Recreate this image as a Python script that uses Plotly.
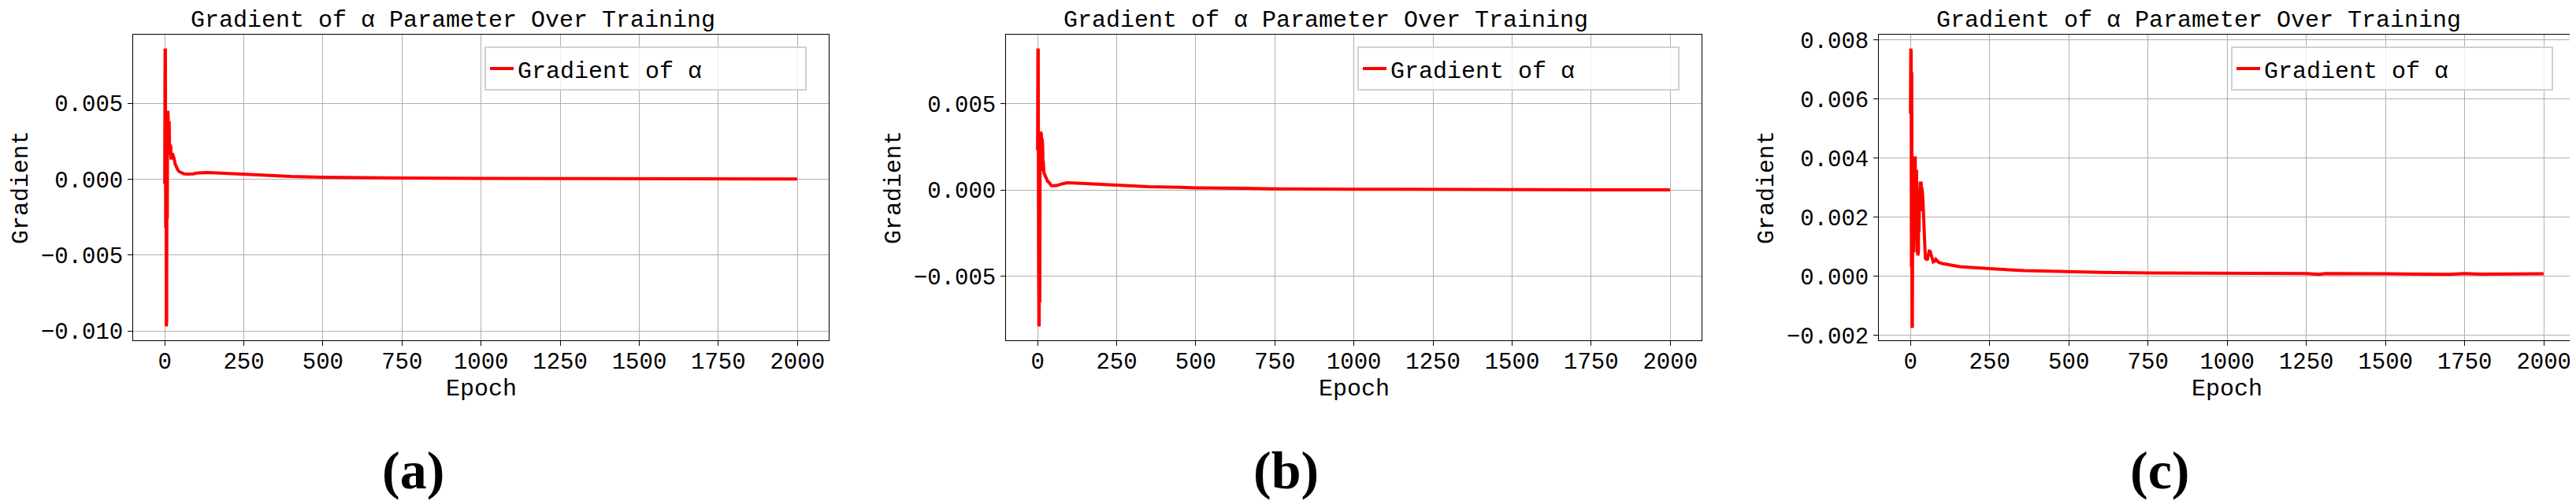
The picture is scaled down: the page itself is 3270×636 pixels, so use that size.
import plotly.graph_objects as go

# ---------------- DATA ----------------
epochs_a = [0, 1, 2, 3, 4, 5, 6, 7, 8, 9, 10, 11, 12, 13, 14, 15, 16, 17, 18, 19,
            20, 22, 24, 26, 28, 30, 33, 36, 40, 45, 50, 55, 60, 70, 80, 90, 100,
            115, 130, 150, 175, 200, 250, 300, 350, 400, 500, 600, 750, 1000,
            1250, 1500, 1750, 1999]
grad_a = [-0.0003, 0.0086, 0.0085, -0.0032, 0.0042, -0.0097, -0.0095, 0.0041,
          -0.0026, 0.0044, 0.0045, 0.0030, 0.0044, 0.0026, 0.0038, 0.0022, 0.0030,
          0.0023, 0.0016, 0.0022, 0.0013, 0.0015, 0.0017, 0.0016, 0.0015, 0.0013,
          0.0010, 0.0008, 0.00065, 0.0005, 0.00043, 0.00038, 0.00035, 0.00033,
          0.00033, 0.00035, 0.0004, 0.00043, 0.00043, 0.00042, 0.00039, 0.00036,
          0.00030, 0.00024, 0.0002, 0.00017, 0.00013, 0.0001, 0.00007, 0.00005,
          0.00003, 0.00002, 0.00002, 0.00001]

epochs_b = [0, 1, 2, 3, 4, 5, 6, 7, 8, 9, 10, 11, 12, 13, 14, 15, 16, 17, 18, 20,
            22, 25, 28, 32, 36, 40, 43, 50, 60, 75, 93, 125, 150, 200, 250, 300,
            350, 450, 500, 650, 750, 1000, 1250, 1400, 1600, 1999]
grad_b = [0.0023, 0.0082, 0.0081, -0.0038, -0.0079, -0.0078, 0.0030, -0.0065,
          0.0033, 0.0020, 0.0034, 0.0018, 0.0033, 0.0011, 0.0030, 0.0019, 0.0026,
          0.0012, 0.0017, 0.0010, 0.0009, 0.0008, 0.0006, 0.0005, 0.00045,
          0.00033, 0.00026, 0.00025, 0.00026, 0.00035, 0.00042, 0.0004, 0.00038,
          0.00033, 0.00027, 0.00022, 0.00019, 0.00016, 0.00013, 0.0001, 0.00007,
          0.00005, 0.00004, 0.00003, 0.00002, 0.00001]

epochs_c = [0, 1, 2, 3, 4, 5, 6, 7, 8, 9, 10, 11, 12, 13, 14, 15, 16, 17, 18, 19,
            20, 21, 22, 23, 24, 25, 26, 27, 28, 29, 30, 31, 32, 33, 34, 35, 36,
            38, 40, 42, 43, 45, 47, 50, 53, 56, 59, 62, 65, 68, 72, 76, 80, 84,
            90, 100, 115, 130, 155, 180, 205, 240, 280, 320, 360, 420, 500, 600,
            750, 900, 1000, 1250, 1290, 1310, 1500, 1700, 1750, 1800, 1999]
grad_c = [0.0055, 0.0077, 0.0076, 0.0003, 0.0069, -0.0017, -0.0017, 0.0026,
          -0.0004, 0.0022, 0.0008, 0.0025, 0.0020, 0.0039, 0.0040, 0.0040, 0.0021,
          0.0037, 0.0030, 0.0036, 0.0009, 0.0008, 0.0025, 0.0007, 0.0021, 0.0008,
          0.0023, 0.0015, 0.0026, 0.0028, 0.0031, 0.0032, 0.0027, 0.0032, 0.0031,
          0.0022, 0.0030, 0.0028, 0.0024, 0.0018, 0.0011, 0.0008, 0.0006, 0.00058,
          0.00054, 0.0007, 0.00085, 0.00084, 0.0007, 0.00055, 0.00048, 0.0005,
          0.00057, 0.00052, 0.00046, 0.00043, 0.0004, 0.00036, 0.00032, 0.0003,
          0.00028, 0.00026, 0.00024, 0.00021, 0.00019, 0.00017, 0.00015, 0.00013,
          0.00011, 0.0001, 0.0001, 0.00009, 0.00006, 0.00009, 0.00008, 0.00006,
          0.00009, 0.00007, 0.00008]

x_ticks = [0, 250, 500, 750, 1000, 1250, 1500, 1750, 2000]
y_ticks_a = [-0.010, -0.005, 0.000, 0.005]
y_ticks_b = [-0.005, 0.000, 0.005]
y_ticks_c = [-0.002, 0.000, 0.002, 0.004, 0.006, 0.008]
panel_labels = ["(a)", "(b)", "(c)"]

# ---------------- LAYOUT HELPERS ----------------
W, H = 3270, 636
MONO = "Liberation Mono, Courier New, monospace"
RED = "#ff0000"

def px(x):
    return x / W

def py(y):
    return 1 - y / H

# plot areas in pixels: left, right (top 36, bottom 424 for all)
boxes = [(161, 1044), (1269, 2152), (2377, 3261)]
series = [(epochs_a, grad_a, y_ticks_a), (epochs_b, grad_b, y_ticks_b),
          (epochs_c, grad_c, y_ticks_c)]

fig = go.Figure()
annotations = []

def label(text, x, y, size=30, family=MONO, angle=0, yanchor="middle"):
    return dict(text=text, x=px(x), y=py(y), xref="paper", yref="paper",
                xanchor="center", yanchor=yanchor, textangle=angle,
                showarrow=False, font=dict(family=family, size=size, color="black"))

for i, ((x0, x1), (ep, gr, yt)) in enumerate(zip(boxes, series)):
    n = "" if i == 0 else str(i + 1)
    leg = "legend" + n
    fig.add_trace(go.Scatter(
        x=ep, y=gr, mode="lines", name="Gradient of α",
        line=dict(color=RED, width=4),
        xaxis="x" + n, yaxis="y" + n, legend=leg,
    ))

    lo, hi = min(gr), max(gr)
    span = hi - lo
    axis_common = dict(
        showline=True, linecolor="black", linewidth=1, mirror=True,
        ticks="outside", ticklen=6, tickwidth=1, tickcolor="black",
        showgrid=True, gridcolor="#b0b0b0", gridwidth=1, zeroline=False,
        tickfont=dict(family=MONO, size=29, color="black"), automargin=False,
    )
    fig.update_layout({
        "xaxis" + n: dict(domain=[px(x0), px(x1)], anchor="y" + n,
                          range=[-99.95, 2098.95], tickvals=x_ticks,
                          ticklabelstandoff=-6, **axis_common),
        "yaxis" + n: dict(domain=[py(424), py(36)], anchor="x" + n,
                          range=[lo - 0.05 * span, hi + 0.05 * span],
                          tickvals=yt, tickformat=".3f", **axis_common),
        leg: dict(x=px(x1 - 437), y=py(51), xanchor="left", yanchor="top",
                  orientation="h", entrywidth=360, entrywidthmode="pixels",
                  bgcolor="rgba(255,255,255,0.8)", bordercolor="#d0d0d0",
                  borderwidth=2, font=dict(family=MONO, size=30, color="black")),
    })

    annotations.append(label("Gradient of α Parameter Over Training", (x0 + x1) / 2 - 36, 18))
    annotations.append(label("Epoch", (x0 + x1) / 2, 467, yanchor="top"))
    annotations.append(label("Gradient", x0 - 142, 230, angle=-90))
    annotations.append(label("<b>" + panel_labels[i] + "</b>", 516 + i * 1108.5, 589,
                             size=68, family="Liberation Serif, serif"))

fig.update_layout(
    width=W, height=H, margin=dict(l=0, r=0, t=0, b=0, autoexpand=False),
    paper_bgcolor="white", plot_bgcolor="white",
    annotations=annotations, showlegend=True,
)

fig.write_html("out.html")
